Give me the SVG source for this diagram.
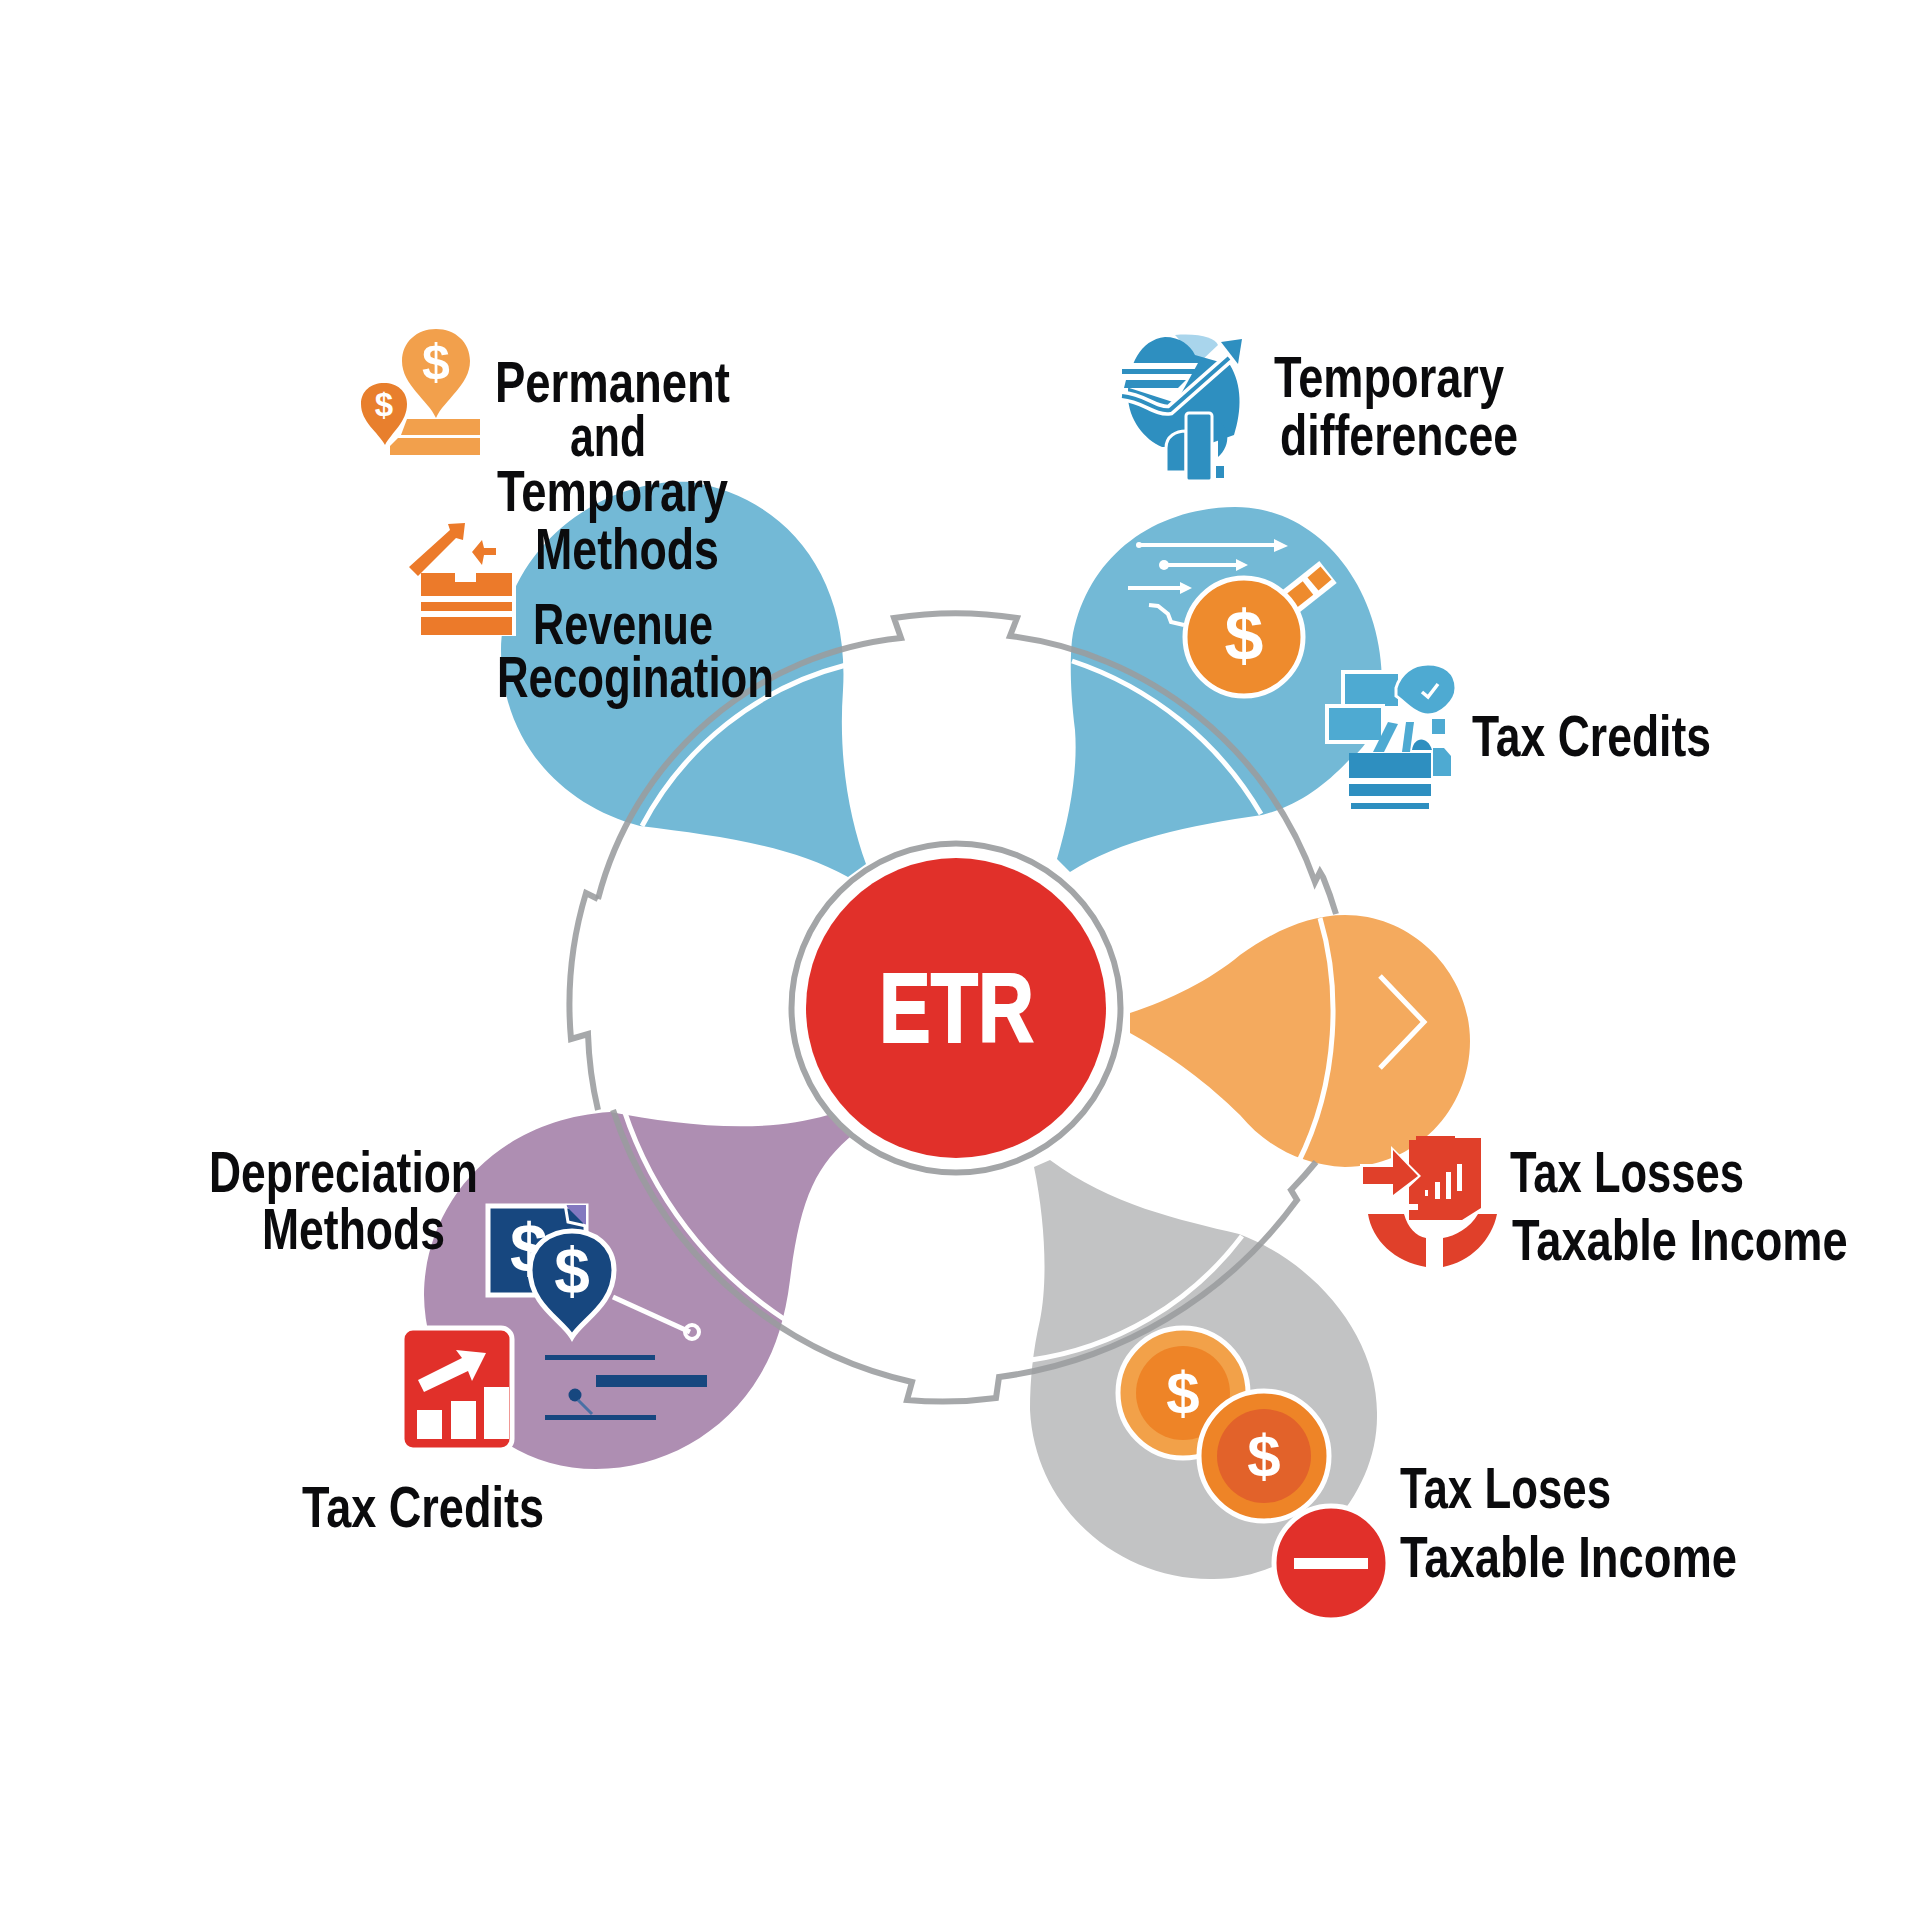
<svg xmlns="http://www.w3.org/2000/svg" width="1920" height="1920" viewBox="0 0 1920 1920">
<style>
.lbl{font-family:"Liberation Sans",Arial,sans-serif;font-weight:700;font-size:57px;fill:#0b0b0d}
.dol{font-family:"Liberation Sans",Arial,sans-serif;font-weight:700;fill:#fff;text-anchor:middle}
.blue{fill:#73b9d6}
.ring{fill:none;stroke:#9a9c9e;stroke-width:6;stroke-opacity:.88;stroke-linejoin:miter}
.wl{fill:none;stroke:#fff;stroke-width:5}
.wa{fill:none;stroke:#fff;stroke-width:4}
.ob{fill:#ec7a2a}
.ic{fill:#4eaad2}
.nv{fill:#17477f}
.rd{fill:#e1302a}
</style>
<rect width="1920" height="1920" fill="#fff"/>
<g id="petals">
<path class="blue" d="M866,864C850,820 838,760 843,690C850,570 780,495 690,482C590,478 501,560 501,650C501,740 560,805 640,826C720,836 790,845 848,877Z"/>
<path class="blue" d="M1057,859C1070,815 1078,770 1075,730C1070,690 1070,660 1072,640C1085,560 1150,508 1235,507C1320,507 1385,590 1382,690C1380,720 1370,745 1349,760C1325,785 1300,805 1262,815C1190,825 1120,840 1070,872Z"/>
<path fill="#f4aa5e" d="M1130,1013C1170,1000 1210,980 1240,955C1275,930 1310,915 1345,915C1415,915 1470,975 1470,1041C1470,1110 1415,1167 1345,1167C1300,1165 1265,1145 1240,1115C1210,1085 1170,1055 1130,1033Z"/>
<path fill="#ae8eb2" d="M855,1133C815,1165 800,1200 790,1280C785,1320 775,1350 760,1375C725,1435 660,1469 596,1469C500,1469 425,1390 424,1295C424,1210 490,1120 610,1112C680,1125 760,1135 828,1115Z"/>
<path fill="#c2c3c4" d="M1034,1167C1045,1220 1048,1280 1040,1320C1033,1350 1030,1380 1030,1410C1035,1510 1120,1580 1212,1579C1300,1580 1378,1500 1377,1415C1378,1340 1320,1265 1239,1234C1180,1220 1110,1205 1050,1160Z"/>
</g>
<g id="connectors">
<path class="wl" d="M642,826A320 320 0 0 1 846,665"/>
<path class="wl" d="M1072,661A345 345 0 0 1 1261,814"/>
<path class="wl" d="M784,1319A400 400 0 0 1 624,1110"/>
<path class="wl" d="M1242,1236A320 320 0 0 1 1031,1360"/>
<path class="wl" d="M1320,918C1340,985 1340,1080 1298,1163"/>
<path class="ring" d="M598,899A350 350 0 0 1 901,638L894,618A395 395 0 0 1 1017,618L1010,636A372 372 0 0 1 1315,882L1320,872L1323,877A385 385 0 0 1 1336,914"/>
<path class="ring" d="M1316,1162A385 385 0 0 1 1291,1190L1297,1200A440 440 0 0 1 999,1377L996,1398A395 395 0 0 1 907,1400L912,1382A410 410 0 0 1 613,1110"/>
<path class="ring" d="M598,1110A380 380 0 0 1 588,1034L571,1039A385 385 0 0 1 586,893L598,899"/>
</g>
<g id="node-etr">
<circle cx="956" cy="1008" r="164.5" fill="#fff" stroke="#a3a5a7" stroke-width="6"/>
<circle cx="956" cy="1008" r="150" class="rd"/>
<text x="879" y="1042" font-family="'Liberation Sans',Arial,sans-serif" font-weight="700" font-size="98" fill="#fff" stroke="#fff" stroke-width="2" textLength="155" lengthAdjust="spacingAndGlyphs">ETR</text>
</g>
<g id="node-permanent">
<path fill="#f2a04c" d="M436,418C428,400 402,385 402,361C402,342 417,329 436,329C455,329 470,342 470,361C470,385 444,400 436,418Z"/>
<text class="dol" x="436" y="379" font-size="50">$</text>
<path fill="#e87f2d" d="M385,445C378,432 361,422 361,404C361,391 371,383 384,383C397,383 407,391 407,404C407,422 392,432 385,445Z"/>
<text class="dol" x="384" y="416" font-size="33">$</text>
<path fill="#f2a04c" d="M407,419H480V435H401Z"/>
<path fill="#f2a04c" d="M398,438H480V455H390V446Z"/>
<text class="lbl" x="495" y="402" textLength="235" lengthAdjust="spacingAndGlyphs">Permanent</text>
<text class="lbl" x="570" y="456" textLength="76" lengthAdjust="spacingAndGlyphs">and</text>
<text class="lbl" x="497" y="511" textLength="231" lengthAdjust="spacingAndGlyphs">Temporary</text>
<text class="lbl" x="535" y="569" textLength="184" lengthAdjust="spacingAndGlyphs">Methods</text>
</g>
<g id="node-revenue">
<path d="M421,573V636H516V573H476V582H455V573Z" fill="#fff"/>
<path class="ob" d="M421,573H455V582H476V573H512V596H421Z"/>
<rect class="ob" x="421" y="602" width="91" height="9"/>
<rect class="ob" x="421" y="617" width="91" height="18"/>
<path class="ob" d="M409,567L450,530L448,524L465,523L463,540L456,538L418,576Z"/>
<path class="ob" d="M472,552L482,540L484,548H496V555H484L482,565Z"/>
<text class="lbl" x="533" y="644" textLength="180" lengthAdjust="spacingAndGlyphs">Revenue</text>
<text class="lbl" x="497" y="697" textLength="277" lengthAdjust="spacingAndGlyphs">Recogination</text>
</g>
<g id="node-temporary">
<path fill="#a9d5ec" d="M1175,335C1200,333 1215,338 1218,345L1200,362Z"/>
<path fill="#2e8fc0" d="M1165,337C1140,340 1128,365 1128,395C1128,420 1145,440 1162,447L1200,447L1234,435C1242,410 1242,385 1230,365L1195,355C1190,345 1180,337 1165,337Z"/>
<path fill="#fff" d="M1120,363H1198L1176,403L1120,385Z"/>
<rect x="1122" y="369" width="74" height="5" fill="#2e8fc0"/>
<path fill="#2e8fc0" d="M1126,380H1186L1178,388H1124Z"/>
<path fill="none" stroke="#fff" stroke-width="11" d="M1122,396C1145,398 1155,412 1170,410L1229,358"/>
<path fill="none" stroke="#2e8fc0" stroke-width="4" d="M1122,396C1145,398 1155,412 1170,410L1229,358"/>
<path fill="#2e8fc0" d="M1221,342L1242,339L1238,364Z"/>
<path fill="#2e8fc0" stroke="#fff" stroke-width="3" d="M1166,472V448C1166,436 1176,431 1186,431V472Z"/>
<rect x="1186" y="413" width="26" height="68" rx="3" fill="#2e8fc0" stroke="#fff" stroke-width="3"/>
<path fill="#2e8fc0" d="M1214,418C1230,425 1232,445 1218,457V418ZM1216,466H1224V478H1216Z"/>
<text class="lbl" x="1274" y="397" textLength="230" lengthAdjust="spacingAndGlyphs">Temporary</text>
<text class="lbl" x="1280" y="455" textLength="238" lengthAdjust="spacingAndGlyphs">differencee</text>
</g>
<g id="node-coin-petal">
<path class="wa" d="M1137,545H1276"/><path fill="#fff" d="M1274,539L1288,546L1274,552Z"/>
<circle cx="1139" cy="545" r="3" fill="#fff"/>
<path class="wa" d="M1160,565H1238"/><path fill="#fff" d="M1236,559L1248,565L1236,571Z"/>
<circle cx="1164" cy="565" r="5" fill="#fff"/>
<path class="wa" d="M1128,588H1182"/><path fill="#fff" d="M1180,582L1192,588L1180,594Z"/>
<path class="wa" d="M1149,605L1158,606L1168,614L1171,622L1184,625"/>
<path d="M1280,610L1328,572" stroke="#fff" stroke-width="28" fill="none"/>
<path d="M1280,610L1308,588" stroke="#ee8b2d" stroke-width="17" fill="none"/>
<path d="M1313,584L1326,573" stroke="#ee8b2d" stroke-width="17" fill="none"/>
<circle cx="1244" cy="637" r="59" fill="#ee8b2d" stroke="#fff" stroke-width="5"/>
<text class="dol" x="1244" y="660" font-size="70">$</text>
</g>
<g id="node-tax-credits-right">
<rect x="1343" y="672" width="57" height="36" class="ic" stroke="#fff" stroke-width="4"/>
<path class="ic" stroke="#fff" stroke-width="3" d="M1396,688C1400,674 1412,664 1428,664C1444,664 1456,672 1456,688C1456,702 1440,715 1428,715C1415,715 1405,702 1396,696Z"/>
<path d="M1422,692L1428,697L1438,684" fill="none" stroke="#fff" stroke-width="3.500"/>
<rect x="1327" y="706" width="56" height="36" class="ic" stroke="#fff" stroke-width="4"/>
<path class="ic" d="M1373,752L1388,722L1398,724L1384,752Z"/>
<path class="ic" d="M1402,752L1406,722L1414,722L1410,752Z"/>
<rect x="1432" y="719" width="13" height="15" class="ic"/>
<path class="ic" d="M1433,748H1444L1451,756V776H1433Z"/>
<path d="M1412,750C1414,736 1428,736 1432,750Z" fill="#2e8fc0"/>
<rect x="1349" y="753" width="82" height="25" fill="#2e8fc0"/>
<rect x="1349" y="784" width="82" height="12" fill="#2e8fc0"/>
<rect x="1351" y="803" width="78" height="6" fill="#2e8fc0"/>
<text class="lbl" x="1472" y="756" textLength="239" lengthAdjust="spacingAndGlyphs">Tax Credits</text>
</g>
<g id="node-orange">
<path fill="none" stroke="#fff" stroke-width="5" d="M1380,976L1424,1022L1380,1068"/>
</g>
<g id="node-tax-losses">
<path style="fill:#e0402a" d="M1409,1140H1416V1136H1455V1138H1481V1208L1462,1220H1409V1210H1418V1204H1409Z"/>
<path fill="#fff" d="M1391,1146L1421,1176L1391,1204V1190H1360V1164H1391Z"/>
<path style="fill:#e0402a" d="M1363,1167H1393V1150L1418,1176L1393,1195V1184H1363Z"/>
<g fill="#fff"><rect x="1425" y="1190" width="3" height="6"/><rect x="1435" y="1182" width="5" height="17"/><rect x="1446" y="1172" width="5" height="27"/><rect x="1457" y="1164" width="5" height="27"/></g>
<path style="fill:#e0402a" d="M1368,1214H1404C1408,1228 1416,1236 1426,1238V1267C1395,1262 1372,1240 1368,1214Z"/>
<path style="fill:#e0402a" d="M1497,1214H1478C1470,1228 1455,1236 1443,1238V1267C1470,1262 1492,1240 1497,1214Z"/>
<text class="lbl" x="1510" y="1192" textLength="234" lengthAdjust="spacingAndGlyphs">Tax Losses</text>
<text class="lbl" transform="translate(1512 1260) scale(.793 1)">Taxable Income</text>
</g>
<g id="node-depreciation">
<rect x="488" y="1206" width="98" height="89" class="nv" stroke="#fff" stroke-width="5"/>
<path d="M565,1205H586V1226Z" fill="#8378c0"/>
<path d="M565,1204L568,1222L586,1226" fill="none" stroke="#fff" stroke-width="3"/>
<text class="dol" x="529" y="1272" font-size="68">$</text>
<path d="M613,1297L690,1332" stroke="#fff" stroke-width="5" fill="none"/>
<circle cx="692" cy="1332" r="7" fill="none" stroke="#fff" stroke-width="4"/>
<path class="nv" stroke="#fff" stroke-width="5" d="M572,1337C562,1320 530,1305 530,1270C530,1245 550,1231 572,1231C594,1231 614,1245 614,1270C614,1305 582,1320 572,1337Z"/>
<text class="dol" x="572" y="1293" font-size="64">$</text>
<rect x="545" y="1355" width="110" height="5" class="nv"/>
<rect x="596" y="1375" width="111" height="12" class="nv"/>
<rect x="545" y="1415" width="111" height="5" class="nv"/>
<circle cx="575" cy="1395" r="6.500" class="nv"/>
<path d="M578,1400L592,1414" stroke="#4a70a5" stroke-width="3" fill="none"/>
<text class="lbl" x="209" y="1192" textLength="269" lengthAdjust="spacingAndGlyphs">Depreciation</text>
<text class="lbl" x="262" y="1249" textLength="183" lengthAdjust="spacingAndGlyphs">Methods</text>
</g>
<g id="node-tax-credits-left">
<rect x="402" y="1328" width="110" height="122" rx="11" class="rd" stroke="#fff" stroke-width="5"/>
<g fill="#fff"><rect x="417" y="1410" width="25" height="29"/><rect x="451" y="1401" width="25" height="38"/><rect x="484" y="1387" width="25" height="52"/></g>
<path fill="#fff" d="M418,1380L462,1358L456,1350L486,1353L472,1381L468,1371L424,1392Z"/>
<text class="lbl" x="302" y="1527" textLength="242" lengthAdjust="spacingAndGlyphs">Tax Credits</text>
</g>
<g id="node-tax-loses">
<circle cx="1183" cy="1393" r="65" fill="#f2a149" stroke="#fff" stroke-width="5"/>
<circle cx="1183" cy="1393" r="47" fill="#ee8427"/>
<text class="dol" x="1183" y="1414" font-size="60">$</text>
<circle cx="1264" cy="1456" r="65" fill="#ee8427" stroke="#fff" stroke-width="5"/>
<circle cx="1264" cy="1456" r="47" fill="#e2622a"/>
<text class="dol" x="1264" y="1477" font-size="60">$</text>
<circle cx="1331" cy="1563" r="57" class="rd" stroke="#fff" stroke-width="5"/>
<rect x="1294" y="1558" width="74" height="11" fill="#fff"/>
<text class="lbl" x="1400" y="1508" textLength="211" lengthAdjust="spacingAndGlyphs">Tax Loses</text>
<text class="lbl" x="1400" y="1577" textLength="337" lengthAdjust="spacingAndGlyphs">Taxable Income</text>
</g>
</svg>
